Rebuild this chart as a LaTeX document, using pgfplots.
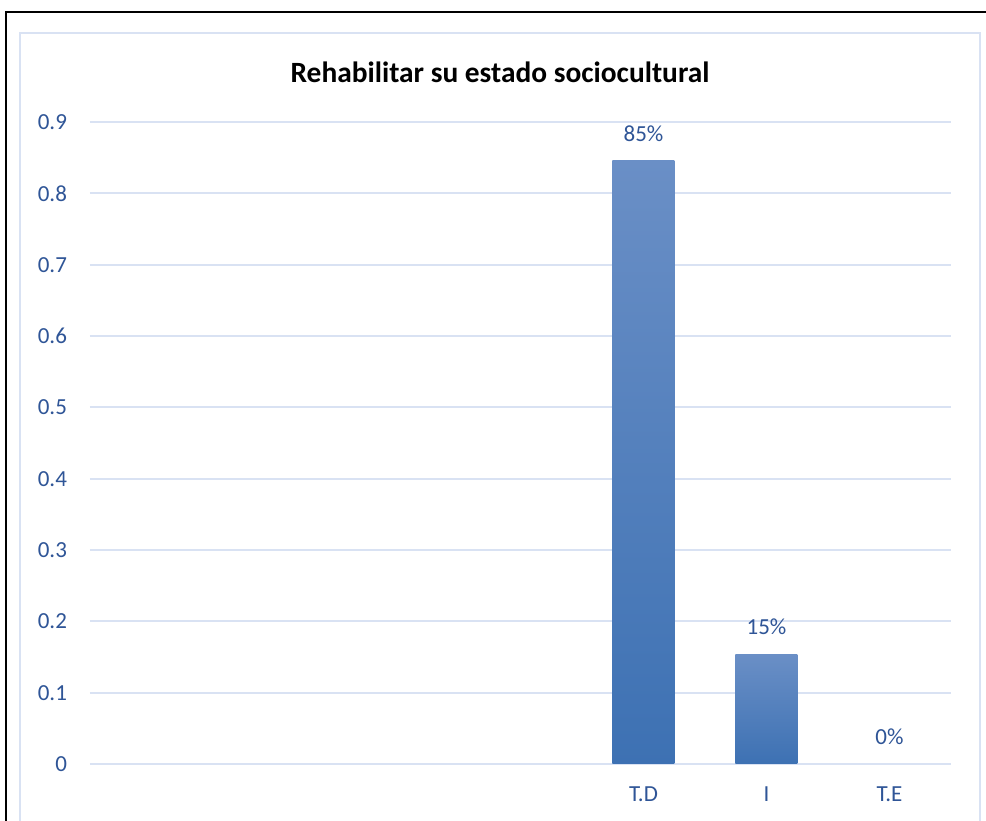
\documentclass[border=0pt]{standalone}
\usepackage{pgfplots}
\pgfplotsset{compat=1.18}
\usepackage{fontspec}
\setmainfont{Carlito}
\definecolor{tickblue}{RGB}{47,85,151}
\definecolor{gridblue}{RGB}{217,226,243}
\definecolor{bartop}{RGB}{106,143,198}
\definecolor{barbot}{RGB}{61,113,179}

\begin{document}
\begin{tikzpicture}
\clip (0,0) rectangle (493pt,410pt);
\fill[white] (0,0) rectangle (493pt,410pt);
% outer black frame and inner light frame
\draw[black, line width=0.8pt] (3pt,-20pt) rectangle (600pt,404pt);
\draw[gridblue, line width=1pt] (10pt,-20pt) rectangle (490pt,393.5pt);
\node[font=\fontsize{14.7pt}{17pt}\selectfont\bfseries] at (250pt,374pt) {Rehabilitar su estado sociocultural};

\begin{axis}[
    at={(45pt,28pt)}, anchor=south west,
    scale only axis,
    width=430.5pt, height=321pt,
    xmin=0.5, xmax=7.5,
    ymin=0, ymax=0.9,
    ytick={0,0.1,...,0.9},
    xtick={5,6,7},
    xticklabels={T.D, I, T.E},
    axis line style={draw=none},
    major tick length=0pt,
    ymajorgrids=true,
    grid style={gridblue, line width=1pt},
    tick label style={font=\fontsize{11.5pt}{13pt}\selectfont, text=tickblue},
    /pgf/number format/assume math mode=true,
    xticklabel style={yshift=-8pt},
    yticklabel style={xshift=-8pt},
    ybar, bar width=31pt, bar shift=0pt,
    nodes near coords,
    point meta=explicit symbolic,
    every node near coord/.append style={font=\fontsize{11.5pt}{13pt}\selectfont, text=tickblue, yshift=6pt},
]
% each bar on its own so that its shading runs over its own height
\addplot[draw=none, top color=bartop, bottom color=barbot] coordinates {(5, 0.846) [85\%]};
\addplot[draw=none, top color=bartop, bottom color=barbot] coordinates {(6, 0.154) [15\%]};
\addplot[draw=none, fill=none] coordinates {(7, 0) [0\%]};
\end{axis}
\end{tikzpicture}
\end{document}
